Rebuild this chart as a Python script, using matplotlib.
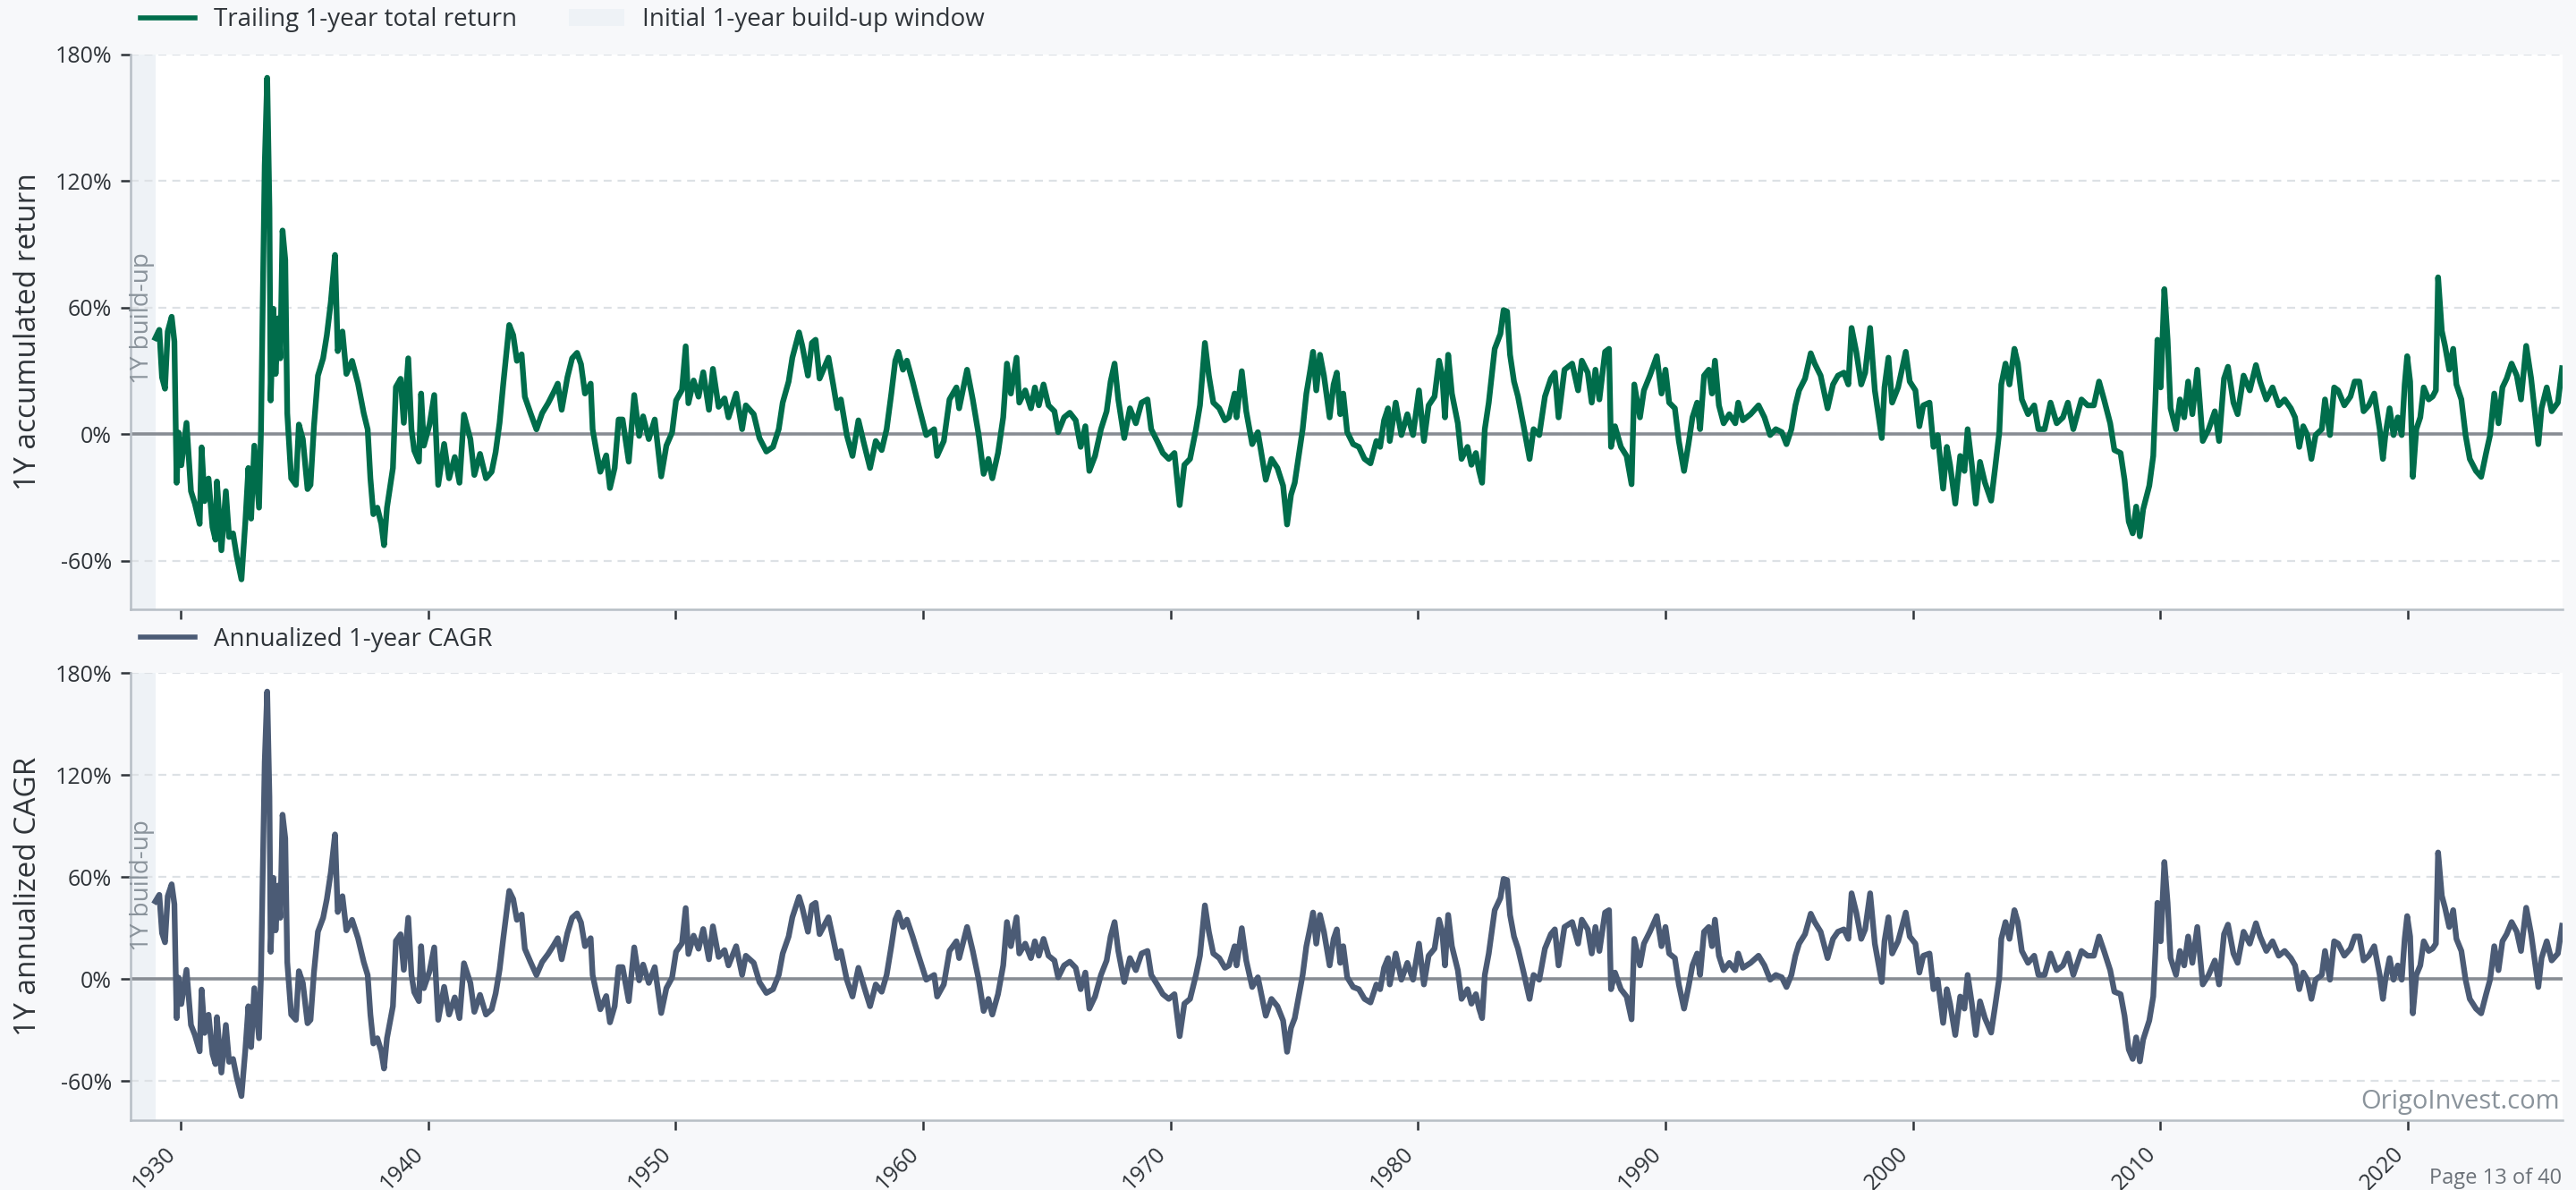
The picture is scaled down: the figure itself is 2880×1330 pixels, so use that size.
import numpy as np
import matplotlib.pyplot as plt
from matplotlib.ticker import FuncFormatter
from matplotlib.transforms import blended_transform_factory
from matplotlib.patches import Patch
from matplotlib.lines import Line2D

plt.rcParams['font.family'] = ['Open Sans', 'DejaVu Sans']

# sample dates (decimal years) and trailing 1-year total return in %
years = np.array([
    1928.98, 1929.14, 1929.25, 1929.37, 1929.48, 1929.64, 1929.75, 1929.84, 1929.92,
    1930.03, 1930.24, 1930.42, 1930.58, 1930.77, 1930.85, 1930.97, 1931.13, 1931.29, 1931.41,
    1931.47, 1931.65, 1931.83, 1931.96, 1932.12, 1932.27, 1932.46, 1932.62, 1932.74, 1932.85,
    1932.98, 1933.17, 1933.25, 1933.32, 1933.40, 1933.50, 1933.59, 1933.64, 1933.75, 1933.84,
    1933.95, 1934.03, 1934.12, 1934.23, 1934.31, 1934.47, 1934.66, 1934.78, 1934.94, 1935.13,
    1935.25, 1935.39, 1935.55, 1935.76, 1935.91, 1936.07, 1936.24, 1936.35, 1936.54, 1936.70,
    1936.93, 1937.17, 1937.40, 1937.56, 1937.67, 1937.79, 1937.95, 1938.11, 1938.22, 1938.34,
    1938.58, 1938.70, 1938.89, 1939.02, 1939.20, 1939.33, 1939.44, 1939.63, 1939.72, 1939.83,
    1940.06, 1940.25, 1940.41, 1940.65, 1940.85, 1941.08, 1941.27, 1941.45, 1941.71, 1941.87,
    1942.10, 1942.34, 1942.57, 1942.73, 1942.89, 1943.04, 1943.28, 1943.44, 1943.59, 1943.78,
    1943.91, 1944.14, 1944.38, 1944.61, 1944.85, 1945.08, 1945.24, 1945.40, 1945.63, 1945.82,
    1946.02, 1946.18, 1946.34, 1946.57, 1946.65, 1946.81, 1946.96, 1947.20, 1947.35, 1947.54,
    1947.70, 1947.86, 1948.11, 1948.33, 1948.53, 1948.69, 1948.92, 1949.16, 1949.42, 1949.63,
    1949.86, 1950.02, 1950.26, 1950.41, 1950.52, 1950.73, 1950.93, 1951.12, 1951.35, 1951.51,
    1951.74, 1951.98, 1952.14, 1952.45, 1952.69, 1952.84, 1953.16, 1953.39, 1953.67, 1953.94,
    1954.17, 1954.33, 1954.57, 1954.72, 1954.99, 1955.12, 1955.35, 1955.51, 1955.66, 1955.82,
    1956.18, 1956.37, 1956.53, 1956.68, 1956.92, 1957.15, 1957.39, 1957.62, 1957.86, 1958.09,
    1958.33, 1958.53, 1958.72, 1958.88, 1959.00, 1959.19, 1959.35, 1959.58, 1959.82, 1960.13,
    1960.45, 1960.57, 1960.84, 1961.07, 1961.35, 1961.46, 1961.78, 1962.01, 1962.25, 1962.45,
    1962.64, 1962.80, 1963.03, 1963.24, 1963.39, 1963.55, 1963.78, 1963.89, 1964.13, 1964.36,
    1964.52, 1964.68, 1964.87, 1965.07, 1965.31, 1965.46, 1965.70, 1965.93, 1966.17, 1966.37,
    1966.56, 1966.72, 1966.95, 1967.19, 1967.42, 1967.58, 1967.74, 1967.89, 1968.13, 1968.36,
    1968.60, 1968.83, 1969.07, 1969.22, 1969.46, 1969.69, 1969.93, 1970.16, 1970.37, 1970.56,
    1970.79, 1971.03, 1971.19, 1971.39, 1971.55, 1971.73, 1971.97, 1972.20, 1972.36, 1972.59,
    1972.67, 1972.88, 1973.06, 1973.30, 1973.53, 1973.69, 1973.85, 1974.08, 1974.32, 1974.55,
    1974.71, 1974.87, 1975.02, 1975.18, 1975.34, 1975.49, 1975.65, 1975.76, 1975.89, 1976.04,
    1976.20, 1976.43, 1976.59, 1976.72, 1976.86, 1976.98, 1977.14, 1977.38, 1977.61, 1977.84,
    1978.08, 1978.32, 1978.47, 1978.63, 1978.79, 1978.86, 1979.10, 1979.33, 1979.57, 1979.80,
    1980.04, 1980.24, 1980.43, 1980.67, 1980.85, 1980.98, 1981.09, 1981.22, 1981.37, 1981.61,
    1981.76, 1982.00, 1982.16, 1982.34, 1982.47, 1982.59, 1982.70, 1982.86, 1983.10, 1983.33,
    1983.46, 1983.60, 1983.72, 1983.88, 1984.04, 1984.27, 1984.51, 1984.67, 1984.90, 1985.13,
    1985.37, 1985.53, 1985.68, 1985.92, 1986.23, 1986.47, 1986.62, 1986.86, 1987.02, 1987.17,
    1987.33, 1987.56, 1987.72, 1987.80, 1987.96, 1988.20, 1988.43, 1988.63, 1988.74, 1988.97,
    1989.13, 1989.37, 1989.65, 1989.84, 1990.00, 1990.15, 1990.38, 1990.54, 1990.75, 1990.93,
    1991.09, 1991.28, 1991.40, 1991.56, 1991.75, 1991.88, 1992.00, 1992.16, 1992.35, 1992.58,
    1992.82, 1992.94, 1993.13, 1993.44, 1993.76, 1994.00, 1994.23, 1994.46, 1994.70, 1994.89,
    1995.09, 1995.25, 1995.40, 1995.64, 1995.87, 1996.03, 1996.27, 1996.55, 1996.77, 1996.97,
    1997.21, 1997.39, 1997.52, 1997.71, 1997.91, 1998.07, 1998.27, 1998.46, 1998.74, 1998.85,
    1999.01, 1999.16, 1999.40, 1999.71, 1999.87, 2000.10, 2000.26, 2000.42, 2000.67, 2000.83,
    2001.00, 2001.22, 2001.37, 2001.50, 2001.71, 2001.91, 2002.08, 2002.21, 2002.38, 2002.54,
    2002.71, 2002.91, 2003.16, 2003.32, 2003.49, 2003.57, 2003.74, 2003.90, 2004.10, 2004.24,
    2004.40, 2004.65, 2004.90, 2005.07, 2005.32, 2005.56, 2005.81, 2006.06, 2006.26, 2006.48,
    2006.81, 2007.06, 2007.31, 2007.52, 2007.72, 2007.97, 2008.14, 2008.39, 2008.55, 2008.72,
    2008.88, 2009.02, 2009.17, 2009.30, 2009.55, 2009.71, 2009.80, 2009.88, 2010.01, 2010.16,
    2010.29, 2010.41, 2010.63, 2010.79, 2010.96, 2011.12, 2011.29, 2011.49, 2011.71, 2011.95,
    2012.20, 2012.37, 2012.57, 2012.73, 2012.95, 2013.12, 2013.36, 2013.61, 2013.86, 2014.03,
    2014.28, 2014.53, 2014.78, 2015.02, 2015.27, 2015.44, 2015.61, 2015.77, 2015.94, 2016.10,
    2016.27, 2016.52, 2016.65, 2016.85, 2017.02, 2017.18, 2017.43, 2017.68, 2017.85, 2018.04,
    2018.21, 2018.42, 2018.64, 2018.86, 2018.99, 2019.09, 2019.26, 2019.42, 2019.59, 2019.75,
    2019.87, 2019.97, 2020.09, 2020.20, 2020.34, 2020.50, 2020.64, 2020.84, 2021.00, 2021.13,
    2021.22, 2021.37, 2021.50, 2021.67, 2021.83, 2021.96, 2022.16, 2022.33, 2022.50, 2022.75,
    2022.96, 2023.16, 2023.32, 2023.49, 2023.66, 2023.82, 2023.99, 2024.19, 2024.40, 2024.57,
    2024.78, 2024.98, 2025.15, 2025.27, 2025.40, 2025.61, 2025.81, 2026.06, 2026.23,
])

ret_1y = np.array([
    45.6, 49.5, 27.0, 21.6, 48.7, 55.7, 44.0, -23.0, 0.8,
    -14.7, 5.4, -27.0, -33.0, -42.5, -6.2, -31.7, -21.0, -44.0, -50.0,
    -22.4, -55.0, -27.0, -48.7, -47.0, -58.0, -68.8, -41.0, -16.0, -40.0,
    -5.4, -34.8, 2.3, 62.6, 127.5, 169.0, 107.0, 16.0, 59.5, 28.6,
    55.0, 36.0, 96.6, 82.7, 10.0, -20.9, -24.0, 4.6, -2.3, -26.0,
    -24.0, 3.9, 27.8, 36.0, 47.0, 62.6, 85.0, 39.4, 48.7, 28.6,
    34.8, 24.0, 10.0, 2.3, -20.9, -37.9, -34.8, -42.5, -52.6, -34.8,
    -16.0, 22.4, 26.3, 5.4, 36.0, 2.3, -7.7, -13.0, 19.3, -5.4,
    4.6, 18.6, -24.0, -4.6, -20.9, -10.8, -23.0, 9.3, -2.3, -19.3,
    -9.3, -20.9, -17.8, -8.5, 5.4, 24.0, 51.8, 47.0, 34.8, 37.9,
    17.8, 10.0, 2.3, 10.0, 14.7, 20.0, 24.0, 11.6, 27.0, 36.0,
    38.6, 33.2, 19.3, 24.0, 2.3, -8.5, -17.8, -10.0, -25.5, -16.0,
    7.0, 7.0, -13.0, 18.6, -0.8, 8.5, -2.3, 7.0, -20.0, -5.4,
    0.8, 16.0, 21.0, 41.7, 14.7, 25.5, 17.8, 29.4, 11.6, 31.0,
    13.0, 17.0, 8.0, 19.3, 2.4, 13.7, 9.5, -1.8, -8.2, -6.0,
    2.4, 15.0, 25.0, 36.3, 48.3, 42.0, 27.8, 43.3, 44.8, 26.4,
    36.3, 23.6, 12.3, 16.5, -0.4, -10.3, 6.6, -4.7, -16.0, -3.2,
    -7.5, 2.4, 19.3, 34.9, 39.1, 30.6, 34.9, 25.0, 13.7, -0.4,
    2.4, -10.3, -3.2, 16.5, 22.2, 12.3, 30.6, 16.5, -0.4, -18.8,
    -11.7, -20.9, -8.9, 8.0, 33.5, 19.3, 36.3, 15.0, 20.8, 12.3,
    22.2, 13.7, 23.6, 13.7, 10.9, 1.0, 8.0, 10.2, 6.6, -6.0,
    3.8, -17.4, -10.3, 2.4, 10.9, 25.0, 33.5, 16.5, -1.8, 12.3,
    5.2, 15.0, 16.5, 2.4, -3.2, -8.9, -11.7, -8.9, -33.6, -14.5,
    -11.7, 2.4, 13.7, 43.3, 27.8, 15.0, 12.3, 6.6, 8.0, 19.3,
    8.0, 29.9, 10.9, -4.7, 1.0, -10.3, -21.6, -11.7, -16.0, -24.4,
    -42.8, -28.7, -23.0, -10.3, 2.4, 19.3, 30.6, 39.1, 20.8, 37.7,
    27.8, 8.0, 23.6, 29.2, 9.5, 19.3, 1.0, -4.7, -6.0, -11.7,
    -13.8, -3.2, -6.0, 6.6, 12.3, -3.2, 15.0, -0.4, 9.5, -0.4,
    20.8, -3.2, 13.7, 17.9, 34.9, 27.8, 8.0, 37.7, 19.3, 5.2,
    -11.7, -6.0, -14.5, -8.9, -17.4, -23.0, 2.4, 15.0, 40.5, 47.6,
    58.9, 58.2, 37.7, 25.0, 17.9, 3.8, -11.7, 2.4, -0.4, 17.9,
    26.4, 29.2, 8.0, 30.6, 33.5, 20.8, 34.9, 29.2, 15.0, 30.6,
    16.5, 39.1, 40.5, -6.0, 3.8, -6.0, -10.3, -23.7, 23.6, 8.0,
    20.8, 27.8, 37.0, 19.3, 30.6, 15.0, 12.3, -3.2, -17.4, -4.7,
    8.0, 15.0, 2.4, 27.8, 30.6, 19.3, 34.9, 13.7, 5.2, 9.5,
    5.2, 15.0, 6.6, 9.5, 13.7, 8.0, -0.4, 2.4, 1.0, -4.7,
    2.4, 13.7, 20.8, 26.4, 38.4, 33.5, 27.8, 12.3, 23.6, 27.8,
    29.2, 23.6, 50.4, 39.1, 23.6, 29.2, 50.4, 20.8, -1.8, 22.2,
    36.3, 15.0, 22.2, 39.1, 25.0, 20.8, 3.8, 13.7, 15.0, -6.0,
    -0.4, -25.8, -6.0, -14.5, -32.9, -10.3, -17.4, 2.4, -14.5, -32.9,
    -13.1, -23.0, -31.5, -16.0, 1.0, 23.6, 33.5, 23.6, 40.5, 33.5,
    16.5, 9.5, 13.7, 2.4, 2.4, 15.0, 5.2, 8.0, 15.0, 2.4,
    16.5, 13.7, 13.7, 25.0, 16.5, 5.2, -7.5, -8.9, -21.6, -41.4,
    -47.0, -34.3, -48.4, -35.7, -24.4, -10.3, 16.5, 44.8, 22.2, 68.8,
    44.8, 12.3, 2.4, 16.5, 8.0, 25.0, 9.5, 30.6, -3.2, 2.4,
    10.9, -3.2, 26.4, 32.0, 15.0, 9.5, 27.8, 20.8, 32.8, 25.0,
    16.5, 22.2, 13.7, 16.5, 12.3, 8.0, -6.0, 3.8, -0.4, -11.7,
    -0.4, 2.4, 16.5, -0.4, 22.2, 20.8, 13.7, 17.9, 25.0, 25.0,
    10.9, 13.7, 19.3, 2.4, -11.7, -0.4, 12.3, -0.4, 8.0, -0.4,
    23.6, 37.0, 25.0, -20.2, 2.4, 8.0, 22.2, 16.5, 17.9, 20.8,
    74.4, 49.0, 41.9, 30.6, 40.5, 23.6, 16.5, -0.4, -11.7, -17.4,
    -20.2, -8.9, -0.4, 19.3, 5.2, 22.2, 26.4, 33.5, 27.8, 16.5,
    41.9, 26.4, 8.0, -4.7, 12.3, 22.2, 10.9, 15.0, 31.3,
])

# a 1-year holding period, so the annualised rate equals the total return
holding_years = 1
cagr_1y = ((1 + ret_1y / 100) ** (1 / holding_years) - 1) * 100

start_year = 1927.98
buildup_end = 1929.0
end_year = 2026.25
decade_ticks = list(range(1930, 2021, 10))
pct_ticks = [-60, 0, 60, 120, 180]

BG = '#f7f8fa'
GREEN = '#006d4b'
SLATE = '#4b5b75'
BAND = '#eef2f6'
TEXT = '#2f3439'
MUTED = '#8a939b'

W, H = 2880, 1330
fig = plt.figure(figsize=(W / 200, H / 200), dpi=200, facecolor=BG)
ax1 = fig.add_axes([146 / W, 1 - 681 / H, (2865 - 146) / W, (681 - 61) / H])
ax2 = fig.add_axes([146 / W, 1 - 1252 / H, (2865 - 146) / W, (1252 - 752) / H], sharex=ax1)

pct_fmt = FuncFormatter(lambda v, _: f"{v:.0f}%")


def style_panel(ax, series, color, ylabel):
    ax.set_facecolor('white')
    ax.axvspan(start_year, buildup_end, color=BAND, zorder=0, lw=0)
    ax.grid(axis='y', color='#dde1e5', linestyle=(0, (4, 3)), linewidth=0.8, zorder=1)
    ax.axhline(0, color='#878c93', lw=1.3, zorder=2)
    ax.plot(years, series, color=color, lw=2.3, solid_joinstyle='round', zorder=3)
    ax.set_xlim(start_year, end_year)
    ax.set_ylim(-83, 180)
    ax.set_yticks(pct_ticks)
    ax.yaxis.set_major_formatter(pct_fmt)
    ax.set_xticks(decade_ticks)
    ax.set_ylabel(ylabel, fontsize=12, color=TEXT, labelpad=5)
    for side in ('top', 'right'):
        ax.spines[side].set_visible(False)
    for side in ('left', 'bottom'):
        ax.spines[side].set_color('#b7bec5')
        ax.spines[side].set_linewidth(0.9)
    ax.tick_params(axis='both', colors='#2f3439', labelsize=9, length=4, width=0.9)
    ax.tick_params(axis='x', labelsize=9, pad=5)
    trans = blended_transform_factory(ax.transData, ax.transAxes)
    ax.text(buildup_end - 0.05, 0.525, '1Y build-up', transform=trans, rotation=90,
            ha='right', va='center', fontsize=10, color=MUTED, zorder=4)


style_panel(ax1, ret_1y, GREEN, '1Y accumulated return')
style_panel(ax2, cagr_1y, SLATE, '1Y annualized CAGR')
ax1.tick_params(labelbottom=False)
plt.setp(ax2.get_xticklabels(), rotation=45, ha='right')

leg_kw = dict(loc='lower left', ncol=2, frameon=False, fontsize=10, borderaxespad=0,
              handlelength=2.2, handletextpad=0.75, columnspacing=2.1)
for t in ax1.legend(handles=[Line2D([], [], color=GREEN, lw=2.0),
                             Patch(facecolor=BAND, edgecolor='none')],
                    labels=['Trailing 1-year total return', 'Initial 1-year build-up window'],
                    bbox_to_anchor=(0, 1.022), **leg_kw).get_texts():
    t.set_color(TEXT)
for t in ax2.legend(handles=[Line2D([], [], color=SLATE, lw=2.0)],
                    labels=['Annualized 1-year CAGR'],
                    bbox_to_anchor=(0, 1.024), **leg_kw).get_texts():
    t.set_color(TEXT)

ax2.text(0.999, 0.012, 'OrigoInvest.com', transform=ax2.transAxes, ha='right',
         va='bottom', fontsize=10.5, color=MUTED, zorder=5)
fig.text(0.9945, 0.001, 'Page 13 of 40', ha='right', va='bottom', fontsize=8.5,
         color='#6b7178')

fig.savefig('out.png', dpi=200, facecolor=BG)
